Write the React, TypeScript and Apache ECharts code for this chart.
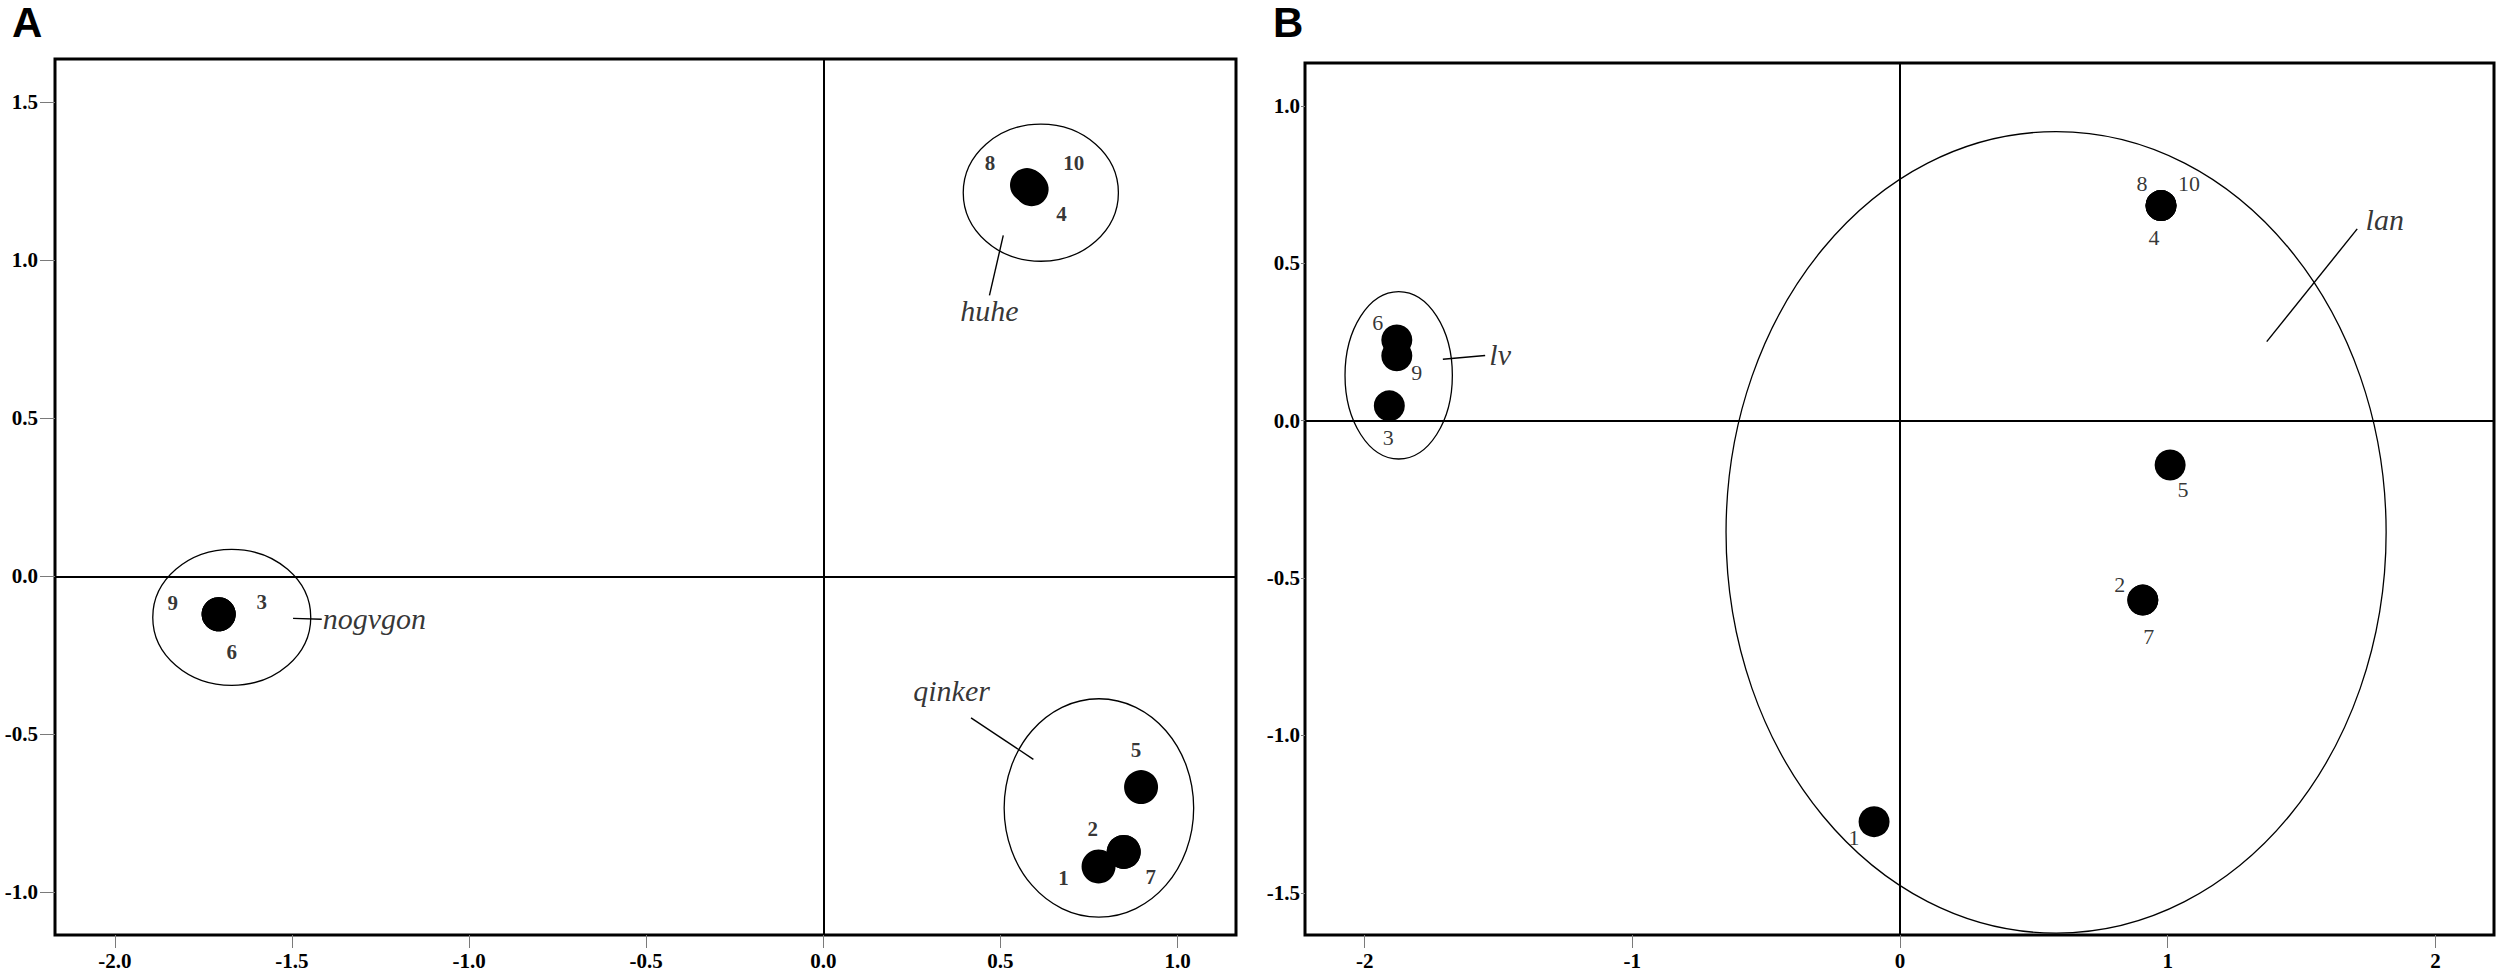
import React, { useEffect, useRef } from 'react';
import * as echarts from 'echarts';

// ---------- data ----------
const objectIds = ['1', '2', '3', '4', '5', '6', '7', '8', '9', '10'];

// Panel A coordinates (dimension 1, dimension 2)
const panelAX = [0.777, 0.848, -1.707, 0.588, 0.897, -1.707, 0.848, 0.575, -1.707, 0.583];
const panelAY = [-0.918, -0.872, -0.12, 1.225, -0.667, -0.12, -0.872, 1.238, -0.12, 1.232];

// Panel B coordinates
const panelBX = [-0.097, 0.907, -1.908, 0.975, 1.009, -1.88, 0.907, 0.975, -1.88, 0.975];
const panelBY = [-1.274, -0.57, 0.047, 0.683, -0.141, 0.256, -0.57, 0.683, 0.206, 0.683];

// Group ellipses (center, radii in data units)
const groupNamesA = ['huhe', 'nogvgon', 'qinker'];
const groupCentersA = [[0.614, 1.214], [-1.67, -0.13], [0.778, -0.733]];
const groupRadiiA = [[0.219, 0.217], [0.223, 0.215], [0.2675, 0.3456]];
const groupNamesB = ['lv', 'lan'];
const groupCentersB = [[-1.873, 0.144], [0.583, -0.355]];
const groupRadiiB = [[0.2005, 0.266], [1.233, 1.273]];

// Group name annotation anchors and leader lines (data units)
const groupLabelPosA = [[0.469, 0.842], [-1.413, -0.133], [0.362, -0.361]];
const groupLeaderA = [
  [[0.508, 1.079], [0.469, 0.889]],
  [[-1.497, -0.133], [-1.416, -0.136]],
  [[0.417, -0.448], [0.593, -0.579]],
];
const groupLabelPosB = [[-1.494, 0.209], [1.811, 0.638]];
const groupLeaderB = [
  [[-1.708, 0.195], [-1.55, 0.207]],
  [[1.37, 0.251], [1.708, 0.609]],
];

// Axis ticks
const axisAXTicks = [-2.0, -1.5, -1.0, -0.5, 0.0, 0.5, 1.0];
const axisAYTicks = [-1.0, -0.5, 0.0, 0.5, 1.0, 1.5];
const axisBXTicks = [-2, -1, 0, 1, 2];
const axisBYTicks = [-1.5, -1.0, -0.5, 0.0, 0.5, 1.0];

// ---------- styles ----------
const SERIF = '"Liberation Serif", "Times New Roman", serif';
const labelOffsetsA = [
  [-35, 12], [-31, -23], [43, -12], [30, 25], [-5, -37],
  [13, 38], [27, 25], [-37, -22], [-46, -11], [44, -24],
];
const labelOffsetsB = [
  [-20, 16], [-23, -16], [-1, 32], [-7, 32], [13, 24],
  [-19, -18], [6, 36], [-19, -22], [20, 17], [28, -22],
];
const groupLabelAlignA = ['inside', 'right', 'inside'];
const groupLabelAlignB = ['inside', 'inside'];

function fmt1(v: number) {
  return (Math.abs(v) < 1e-9 ? 0 : v).toFixed(1);
}

function axisCommon(ticks: number[], tickLen: number, margin: number, formatter: (v: number) => string) {
  return {
    type: 'value',
    axisLine: { show: false, onZero: false },
    splitLine: { show: false },
    axisTick: {
      show: true,
      length: tickLen,
      customValues: ticks,
      lineStyle: { color: '#7a7a7a', width: 1 },
    },
    axisLabel: {
      customValues: ticks,
      formatter,
      margin,
      color: '#000',
      fontFamily: SERIF,
      fontWeight: 'bold',
      fontSize: 21,
    },
  };
}

function panelSeries(
  idx: number,
  xs: number[],
  ys: number[],
  offsets: number[][],
  symbolSize: number,
  numberWeight: string,
  numberSize: number,
  names: string[],
  centers: number[][],
  radii: number[][],
  labelPos: number[][],
  labelAlign: string[],
  leaders: number[][][],
) {
  const series: any[] = [];
  series.push({
    type: 'custom',
    xAxisIndex: idx,
    yAxisIndex: idx,
    silent: true,
    encode: { x: 0, y: 1 },
    data: centers.map((c, i) => [c[0], c[1], radii[i][0], radii[i][1]]),
    renderItem: (params: any, api: any) => {
      const c = api.coord([api.value(0), api.value(1)]);
      const s = api.size([api.value(2), api.value(3)]);
      return {
        type: 'ellipse',
        shape: { cx: c[0], cy: c[1], rx: s[0], ry: s[1] },
        style: { fill: 'none', stroke: '#000', lineWidth: 1.3 },
      };
    },
    z: 2,
  });
  series.push({
    type: 'scatter',
    xAxisIndex: idx,
    yAxisIndex: idx,
    silent: true,
    symbol: 'circle',
    symbolSize,
    itemStyle: { color: '#000', opacity: 1 },
    data: objectIds.map((id, i) => [xs[i], ys[i]]),
    markLine: {
      silent: true,
      symbol: 'none',
      label: { show: false },
      lineStyle: { color: '#000', width: 2, type: 'solid', opacity: 1 },
      data: [{ xAxis: 0 }, { yAxis: 0 }],
    },
    z: 3,
  });
  series.push({
    type: 'scatter',
    xAxisIndex: idx,
    yAxisIndex: idx,
    silent: true,
    symbolSize: 0,
    itemStyle: { color: 'transparent' },
    label: {
      show: true,
      position: 'inside',
      color: '#000',
      fontFamily: SERIF,
      fontWeight: numberWeight,
      fontSize: numberSize,
    },
    data: objectIds.map((id, i) => ({
      value: [xs[i], ys[i]],
      label: { formatter: id, offset: offsets[i] },
    })),
    z: 4,
  });
  series.push({
    type: 'scatter',
    xAxisIndex: idx,
    yAxisIndex: idx,
    silent: true,
    symbolSize: 0,
    itemStyle: { color: 'transparent' },
    label: {
      show: true,
      color: '#000',
      fontFamily: SERIF,
      fontStyle: 'italic',
      fontWeight: 'normal',
      fontSize: 30,
      distance: 0,
    },
    data: names.map((n, i) => ({
      value: labelPos[i],
      label: { formatter: n, position: labelAlign[i] },
    })),
    z: 4,
  });
  leaders.forEach((seg) => {
    series.push({
      type: 'line',
      xAxisIndex: idx,
      yAxisIndex: idx,
      silent: true,
      symbol: 'none',
      lineStyle: { color: '#000', width: 1.4 },
      data: seg,
      z: 3,
    });
  });
  return series;
}

function buildOption() {
  return {
    animation: false,
    backgroundColor: '#fff',
    grid: [
      { left: 55, top: 59, width: 1181, height: 876, show: true, borderColor: '#000', borderWidth: 3, backgroundColor: 'transparent' },
      { left: 1305, top: 63, width: 1189, height: 872, show: true, borderColor: '#000', borderWidth: 3, backgroundColor: 'transparent' },
    ],
    xAxis: [
      { ...axisCommon(axisAXTicks, 13, 15, fmt1), gridIndex: 0, min: -2.169, max: 1.165 },
      { ...axisCommon(axisBXTicks, 13, 15, (v: number) => String(Math.round(v))), gridIndex: 1, min: -2.223, max: 2.219 },
    ],
    yAxis: [
      { ...axisCommon(axisAYTicks, 15, 17, fmt1), gridIndex: 0, min: -1.135, max: 1.637 },
      { ...axisCommon(axisBYTicks, 4, 5, fmt1), gridIndex: 1, min: -1.634, max: 1.136 },
    ],
    graphic: [
      { type: 'text', left: 12, top: 1, style: { text: 'A', font: 'bold 42px "Liberation Sans", Arial, sans-serif', fill: '#000' } },
      { type: 'text', left: 1273, top: 1, style: { text: 'B', font: 'bold 42px "Liberation Sans", Arial, sans-serif', fill: '#000' } },
    ],
    series: [
      ...panelSeries(0, panelAX, panelAY, labelOffsetsA, 34, 'bold', 21, groupNamesA, groupCentersA, groupRadiiA, groupLabelPosA, groupLabelAlignA, groupLeaderA),
      ...panelSeries(1, panelBX, panelBY, labelOffsetsB, 31, 'normal', 22, groupNamesB, groupCentersB, groupRadiiB, groupLabelPosB, groupLabelAlignB, groupLeaderB),
    ],
  };
}

export default function App() {
  const ref = useRef<HTMLDivElement>(null);
  useEffect(() => {
    if (!ref.current) return;
    const chart = echarts.init(ref.current, undefined, { renderer: 'svg' });
    chart.setOption(buildOption() as any);
    return () => chart.dispose();
  }, []);
  return (
    <div
      ref={ref}
      style={{ position: 'absolute', left: 0, top: 0, width: 2500, height: 975, background: '#fff' }}
    />
  );
}
